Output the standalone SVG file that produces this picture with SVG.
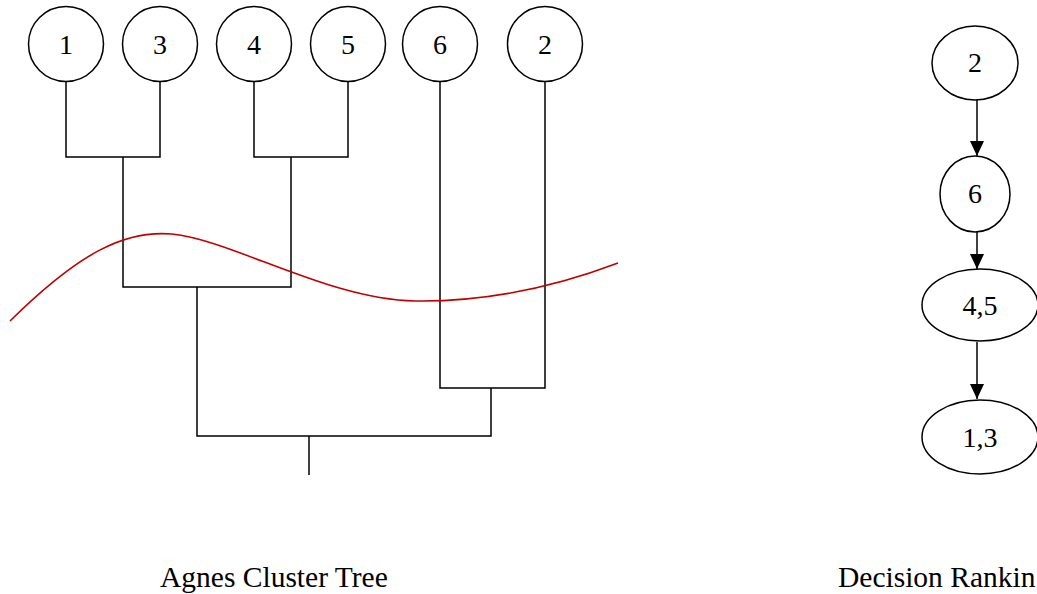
<svg xmlns="http://www.w3.org/2000/svg" width="1037" height="594" viewBox="0 0 1037 594">
<style>
.n{fill:#fff;stroke:#000;stroke-width:1.5}
.t{font-family:"Liberation Serif","Times New Roman",serif;font-size:28px;fill:#000;text-anchor:middle}
.c{fill:none;stroke:#000;stroke-width:1.5}
.cap{font-family:"Liberation Serif","Times New Roman",serif;font-size:29.5px;fill:#000}
</style>
<defs>
<marker id="ah" markerWidth="16" markerHeight="14" refX="15" refY="7" orient="auto" markerUnits="userSpaceOnUse">
<path d="M0,0 L15,7 L0,14 Z" fill="#000"/>
</marker>
</defs>
<rect width="1037" height="594" fill="#fff"/>
<g id="connectors">
<path class="c" d="M66,82 V157 H160 V82"/>
<path class="c" d="M254,82 V157 H348 V82"/>
<path class="c" d="M123,157 V287 H291 V157"/>
<path class="c" d="M440,82 V388 H545 V82"/>
<path class="c" d="M197,287 V436 H491 V388"/>
<path class="c" d="M309,436 V475"/>
<path d="M10,321 C80,252 125,230 172,234 C232,240 330,300 415,301 C490,302 560,285 618,263" fill="none" stroke="#c00000" stroke-width="1.6"/>
<line class="c" x1="977" y1="100" x2="977" y2="156" marker-end="url(#ah)"/>
<line class="c" x1="977" y1="232" x2="977" y2="269" marker-end="url(#ah)"/>
<line class="c" x1="977" y1="342" x2="977" y2="399" marker-end="url(#ah)"/>
</g>
<g id="n1"><circle class="n" cx="66" cy="44" r="37.5"/><text class="t" x="66" y="54">1</text></g>
<g id="n3"><circle class="n" cx="160" cy="44" r="37.5"/><text class="t" x="160" y="54">3</text></g>
<g id="n4"><circle class="n" cx="254" cy="44" r="37.5"/><text class="t" x="254" y="54">4</text></g>
<g id="n5"><circle class="n" cx="348" cy="44" r="37.5"/><text class="t" x="348" y="54">5</text></g>
<g id="n6"><circle class="n" cx="440" cy="44" r="37.5"/><text class="t" x="440" y="54">6</text></g>
<g id="n2"><circle class="n" cx="545" cy="44" r="37.5"/><text class="t" x="545" y="54">2</text></g>
<g id="r2"><ellipse class="n" cx="975" cy="63" rx="43" ry="37"/><text class="t" x="975" y="72">2</text></g>
<g id="r6"><ellipse class="n" cx="975" cy="194" rx="35" ry="38"/><text class="t" x="975" y="203">6</text></g>
<g id="r45"><ellipse class="n" cx="980" cy="305" rx="58" ry="36"/><text class="t" x="980" y="315">4,5</text></g>
<g id="r13"><ellipse class="n" cx="980" cy="437" rx="58" ry="37"/><text class="t" x="980" y="447">1,3</text></g>
<text class="cap" x="160" y="587">Agnes Cluster Tree</text>
<text class="cap" x="838" y="587">Decision Rankin</text>
</svg>
